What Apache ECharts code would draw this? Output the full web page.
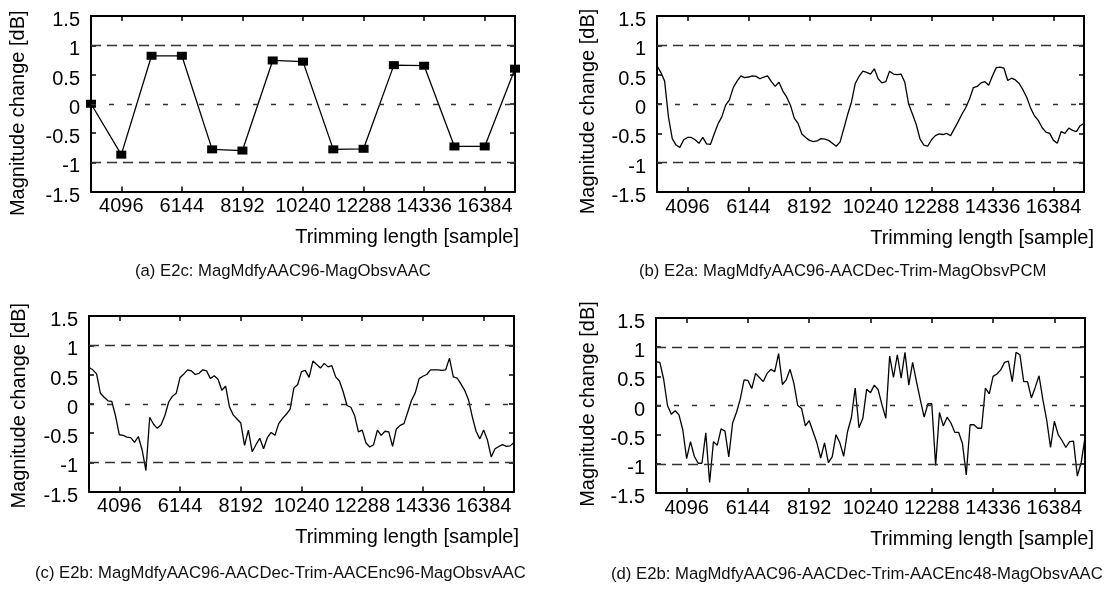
<!DOCTYPE html>
<html>
<head>
<meta charset="utf-8">
<script src="https://cdn.jsdelivr.net/npm/echarts@6/dist/echarts.min.js"></script>
<style>
  html, body { margin: 0; padding: 0; background: #ffffff; }
  #chart { width: 1117px; height: 590px; }
</style>
</head>
<body>
<div id="chart"></div>
<script>
// Trimming lengths [sample]
const xTicks = [4096, 6144, 8192, 10240, 12288, 14336, 16384];

// (a) coarse grid, one point every 1024 samples
const trimCoarse = [3072, 4096, 5120, 6144, 7168, 8192, 9216, 10240, 11264, 12288, 13312, 14336, 15360, 16384, 17408];

// (b)-(d) fine grid, one point every 128 samples
const trimFine = [
  3072, 3200, 3328, 3456, 3584, 3712, 3840, 3968, 4096, 4224, 4352, 4480, 4608, 4736, 4864, 4992,
  5120, 5248, 5376, 5504, 5632, 5760, 5888, 6016, 6144, 6272, 6400, 6528, 6656, 6784, 6912, 7040,
  7168, 7296, 7424, 7552, 7680, 7808, 7936, 8064, 8192, 8320, 8448, 8576, 8704, 8832, 8960, 9088,
  9216, 9344, 9472, 9600, 9728, 9856, 9984, 10112, 10240, 10368, 10496, 10624, 10752, 10880, 11008, 11136,
  11264, 11392, 11520, 11648, 11776, 11904, 12032, 12160, 12288, 12416, 12544, 12672, 12800, 12928, 13056, 13184,
  13312, 13440, 13568, 13696, 13824, 13952, 14080, 14208, 14336, 14464, 14592, 14720, 14848, 14976, 15104, 15232,
  15360, 15488, 15616, 15744, 15872, 16000, 16128, 16256, 16384, 16512, 16640, 16768, 16896, 17024, 17152, 17280,
  17408
];

// Magnitude change [dB]
const magA = [0.00, -0.87, 0.82, 0.82, -0.78, -0.80, 0.74, 0.72, -0.78, -0.77, 0.66, 0.65, -0.73, -0.73, 0.60];

const magB = [
  0.65, 0.54, 0.39, -0.22, -0.59, -0.70, -0.74, -0.61, -0.57, -0.57, -0.61, -0.67, -0.57, -0.68, -0.69, -0.51,
  -0.34, -0.22, -0.02, 0.07, 0.28, 0.39, 0.48, 0.45, 0.46, 0.48, 0.47, 0.43, 0.46, 0.48, 0.38, 0.30,
  0.37, 0.22, 0.12, -0.02, -0.24, -0.33, -0.51, -0.57, -0.62, -0.64, -0.63, -0.59, -0.60, -0.62, -0.67, -0.72,
  -0.65, -0.42, -0.18, 0.03, 0.35, 0.47, 0.56, 0.54, 0.51, 0.60, 0.43, 0.36, 0.38, 0.56, 0.51, 0.50,
  0.51, 0.37, 0.00, -0.17, -0.35, -0.60, -0.70, -0.72, -0.61, -0.54, -0.51, -0.52, -0.50, -0.54, -0.42, -0.30,
  -0.17, -0.06, 0.09, 0.28, 0.30, 0.36, 0.38, 0.32, 0.48, 0.62, 0.63, 0.61, 0.40, 0.44, 0.41, 0.35,
  0.24, 0.11, -0.07, -0.20, -0.28, -0.40, -0.48, -0.50, -0.62, -0.67, -0.47, -0.50, -0.41, -0.45, -0.47, -0.37,
  -0.33
];

const magC = [
  0.62, 0.58, 0.51, 0.18, 0.11, 0.05, 0.04, -0.21, -0.53, -0.54, -0.57, -0.58, -0.66, -0.56, -0.79, -1.14,
  -0.23, -0.35, -0.42, -0.36, -0.20, 0.03, 0.13, 0.18, 0.45, 0.51, 0.58, 0.56, 0.50, 0.52, 0.58, 0.56,
  0.43, 0.48, 0.42, 0.23, 0.30, -0.05, -0.19, -0.26, -0.33, -0.71, -0.45, -0.82, -0.70, -0.59, -0.77, -0.58,
  -0.49, -0.54, -0.34, -0.25, -0.18, -0.09, 0.27, 0.33, 0.55, 0.57, 0.45, 0.73, 0.67, 0.61, 0.69, 0.63,
  0.65, 0.46, 0.39, 0.20, -0.03, -0.06, -0.20, -0.48, -0.45, -0.67, -0.74, -0.70, -0.45, -0.54, -0.47, -0.48,
  -0.73, -0.43, -0.37, -0.34, -0.14, 0.06, 0.19, 0.43, 0.47, 0.50, 0.58, 0.58, 0.58, 0.57, 0.58, 0.78,
  0.46, 0.44, 0.34, 0.23, 0.07, -0.22, -0.47, -0.60, -0.45, -0.62, -0.91, -0.77, -0.73, -0.70, -0.73, -0.72,
  -0.66
];

const magD = [
  0.75, 0.74, 0.45, 0.00, -0.15, -0.09, -0.16, -0.42, -0.91, -0.62, -0.87, -0.99, -0.99, -0.47, -1.32, -0.62,
  -0.68, -0.40, -0.44, -0.88, -0.30, -0.12, 0.11, 0.44, 0.43, 0.29, 0.55, 0.48, 0.41, 0.55, 0.62, 0.58,
  0.89, 0.36, 0.44, 0.62, 0.38, 0.00, -0.05, -0.35, -0.26, -0.45, -0.64, -0.90, -0.64, -0.98, -0.88, -0.50,
  -0.64, -0.87, -0.45, -0.21, 0.30, -0.38, -0.22, 0.28, 0.22, 0.35, 0.27, 0.01, -0.22, 0.85, 0.48, 0.87,
  0.47, 0.91, 0.35, 0.74, 0.41, 0.10, -0.20, 0.03, 0.03, -1.03, -0.12, -0.35, -0.20, -0.30, -0.46, -0.46,
  -0.65, -1.19, -0.33, -0.33, -0.39, -0.39, 0.30, 0.20, 0.50, 0.54, 0.61, 0.74, 0.76, 0.41, 0.91, 0.87,
  0.41, 0.41, 0.13, 0.31, 0.51, 0.10, -0.25, -0.72, -0.27, -0.50, -0.60, -0.72, -0.62, -0.61, -1.21, -0.98,
  -0.55
];

const captions = [
  '(a) E2c: MagMdfyAAC96-MagObsvAAC',
  '(b) E2a: MagMdfyAAC96-AACDec-Trim-MagObsvPCM',
  '(c) E2b: MagMdfyAAC96-AACDec-Trim-AACEnc96-MagObsvAAC',
  '(d) E2b: MagMdfyAAC96-AACDec-Trim-AACEnc48-MagObsvAAC'
];

const FONT = '"Liberation Sans", Arial, Helvetica, sans-serif';

// Layout of the four panels
const panels = [
  { x: trimCoarse, y: magA, marker: true,  grid: { left: 91,  top: 16,  width: 424, height: 175.5 },
    xGap: 4,  yGap: 63, yShift: 19, cap: { left: 135, top: 263 } },
  { x: trimFine,   y: magB, marker: false, grid: { left: 657, top: 16,  width: 427, height: 176 },
    xGap: 10, yGap: 59, yShift: 15, cap: { left: 639, top: 263 } },
  { x: trimFine,   y: magC, marker: false, grid: { left: 89,  top: 316, width: 425, height: 175.5 },
    xGap: 5,  yGap: 60, yShift: 4,  cap: { left: 35,  top: 565 } },
  { x: trimFine,   y: magD, marker: false, grid: { left: 656, top: 318, width: 429, height: 175 },
    xGap: 9,  yGap: 58, yShift: -3, cap: { left: 611, top: 566 } }
];

const axisLineStyle = { color: '#000', width: 2 };
const tickStyle = { color: '#000', width: 1.5 };
const fmt = v => String(v);

const grid = [], xAxis = [], yAxis = [], series = [], title = [];

panels.forEach((p, i) => {
  grid.push(Object.assign({ containLabel: false }, p.grid));

  // bottom and top x axes
  xAxis.push({
    gridIndex: i, type: 'value', min: 3072, max: 17408, position: 'bottom',
    axisLine: { onZero: false, lineStyle: axisLineStyle },
    axisTick: { inside: true, length: 5, customValues: xTicks, lineStyle: tickStyle },
    axisLabel: { customValues: xTicks, formatter: fmt, margin: 5, fontSize: 20, color: '#000', fontFamily: FONT },
    splitLine: { show: false },
    name: 'Trimming length [sample]', nameLocation: 'end', nameGap: p.xGap,
    nameTextStyle: { fontSize: 20, color: '#000', fontFamily: FONT, align: 'right', verticalAlign: 'top', padding: [36, 0, 0, 0] }
  });
  xAxis.push({
    gridIndex: i, type: 'value', min: 3072, max: 17408, position: 'top',
    axisLine: { onZero: false, lineStyle: axisLineStyle },
    axisTick: { inside: true, length: 5, customValues: xTicks, lineStyle: tickStyle },
    axisLabel: { show: false },
    splitLine: { show: false }
  });

  // left and right y axes
  const yShiftPad = p.yShift >= 0 ? [0, p.yShift, 0, 0] : [0, 0, 0, -p.yShift];
  yAxis.push({
    gridIndex: i, type: 'value', min: -1.5, max: 1.5, interval: 0.5, position: 'left',
    axisLine: { onZero: false, lineStyle: axisLineStyle },
    axisTick: { inside: true, length: 5, lineStyle: tickStyle },
    // labels sit a little below their ticks
    axisLabel: { formatter: fmt, margin: 11, fontSize: 20, color: '#000', fontFamily: FONT, verticalAlign: 'top', lineHeight: 9 },
    splitLine: { show: false },
    name: 'Magnitude change [dB]', nameLocation: 'middle', nameGap: p.yGap,
    nameTextStyle: { fontSize: 20, color: '#000', fontFamily: FONT, padding: yShiftPad }
  });
  yAxis.push({
    gridIndex: i, type: 'value', min: -1.5, max: 1.5, interval: 0.5, position: 'right',
    axisLine: { onZero: false, lineStyle: axisLineStyle },
    axisTick: { inside: true, length: 5, lineStyle: tickStyle },
    axisLabel: { show: false },
    splitLine: { show: false }
  });

  series.push({
    type: 'line',
    xAxisIndex: 2 * i,
    yAxisIndex: 2 * i,
    data: p.x.map((t, k) => [t, p.y[k]]),
    symbol: p.marker ? 'rect' : 'none',
    symbolSize: [10, 8],
    showSymbol: p.marker,
    itemStyle: { color: '#000' },
    lineStyle: { color: '#000', width: 1.3 },
    z: 3,
    markLine: {
      silent: true,
      symbol: 'none',
      label: { show: false },
      lineStyle: { color: '#333', width: 1.3 },
      data: [
        { yAxis: 1, lineStyle: { type: [10, 6], color: '#333', width: 1.3 } },
        { yAxis: 0, lineStyle: { type: [5, 13], color: '#333', width: 1.3 } },
        { yAxis: -1, lineStyle: { type: [10, 6], color: '#333', width: 1.3 } }
      ]
    }
  });

  title.push({
    text: captions[i], left: p.cap.left, top: p.cap.top, padding: 0,
    textStyle: { fontSize: 16.7, fontWeight: 'normal', color: '#111', fontFamily: FONT }
  });
});

const chart = echarts.init(document.getElementById('chart'), null, { renderer: 'canvas' });
chart.setOption({
  animation: false,
  backgroundColor: '#ffffff',
  title, grid, xAxis, yAxis, series
});
</script>
</body>
</html>
